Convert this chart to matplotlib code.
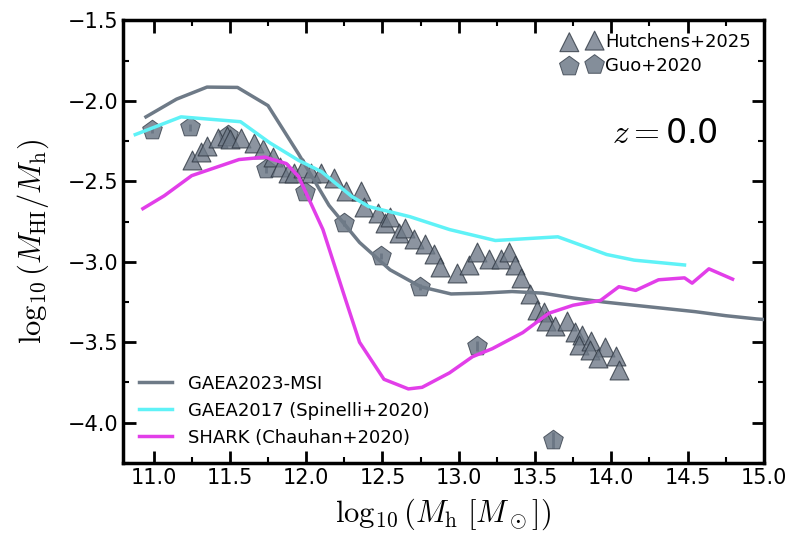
import numpy as np
import matplotlib
matplotlib.use("Agg")
import matplotlib.pyplot as plt

plt.rcParams['mathtext.fontset'] = 'cm'
plt.rcParams['font.family'] = ['DejaVu Sans']

# GAEA2023-MSI
gaea23_x = [10.95, 11.15, 11.35, 11.55, 11.75, 11.95, 12.15, 12.35, 12.55, 12.75, 12.95,
            13.15, 13.35, 13.55, 13.75, 13.95, 14.15, 14.35, 14.55, 14.75, 14.95, 15.15]
gaea23_y = [-2.10, -1.99, -1.915, -1.917, -2.03, -2.33, -2.65, -2.88, -3.05, -3.155, -3.20,
            -3.195, -3.185, -3.195, -3.225, -3.25, -3.27, -3.29, -3.31, -3.335, -3.355, -3.37]

# GAEA2017 (Spinelli+2020)
gaea17_x = [10.88, 11.18, 11.57, 11.76, 11.95, 12.10, 12.30, 12.41, 12.68, 12.94, 13.24,
            13.65, 13.97, 14.15, 14.48]
gaea17_y = [-2.21, -2.10, -2.13, -2.26, -2.37, -2.44, -2.595, -2.657, -2.72, -2.80, -2.868,
            -2.845, -2.955, -2.99, -3.02]

# SHARK (Chauhan+2020)
shark_x = [10.93, 11.07, 11.25, 11.56, 11.73, 11.87, 11.95, 12.11, 12.26, 12.35, 12.51,
           12.67, 12.76, 12.94, 13.09, 13.22, 13.42, 13.59, 13.75, 13.93, 14.05, 14.16,
           14.31, 14.48, 14.53, 14.64, 14.795]
shark_y = [-2.67, -2.59, -2.465, -2.365, -2.35, -2.39, -2.47, -2.80, -3.24, -3.50, -3.73,
           -3.79, -3.78, -3.69, -3.59, -3.54, -3.44, -3.32, -3.27, -3.24, -3.155, -3.178,
           -3.112, -3.10, -3.133, -3.044, -3.108]

# Hutchens+2025
hut_x = [11.25, 11.31, 11.35, 11.42, 11.48, 11.50, 11.57, 11.66, 11.72, 11.78, 11.83, 11.88,
         11.92, 11.98, 12.03, 12.10, 12.18, 12.26, 12.36, 12.38, 12.47, 12.52, 12.55, 12.61,
         12.65, 12.71, 12.78, 12.84, 12.88, 12.99, 13.07, 13.12, 13.20, 13.28, 13.33, 13.37,
         13.41, 13.47, 13.51, 13.56, 13.57, 13.63, 13.71, 13.76, 13.81, 13.79, 13.87, 13.86,
         13.96, 13.91, 14.03, 14.05]
hut_y = [-2.37, -2.32, -2.28, -2.23, -2.22, -2.24, -2.23, -2.26, -2.30, -2.35, -2.41, -2.45,
         -2.45, -2.42, -2.45, -2.45, -2.48, -2.56, -2.56, -2.66, -2.70, -2.76, -2.72, -2.82,
         -2.79, -2.86, -2.89, -2.95, -3.03, -3.07, -3.02, -2.94, -2.98, -2.98, -2.94, -3.02,
         -3.10, -3.20, -3.30, -3.31, -3.37, -3.40, -3.37, -3.435, -3.455, -3.52, -3.49, -3.55,
         -3.53, -3.60, -3.585, -3.67]

# Guo+2020
guo_x = [10.99, 11.24, 11.49, 11.74, 11.99, 12.245, 12.49, 12.745, 13.12, 13.62]
guo_y = [-2.18, -2.165, -2.21, -2.426, -2.568, -2.76, -2.965, -3.157, -3.525, -4.11]
guo_err = [0.02, 0.02, 0.02, 0.02, 0.02, 0.02, 0.02, 0.02, 0.03, 0.05]

fig, ax = plt.subplots(figsize=(7.94, 5.34), dpi=100)
fig.subplots_adjust(left=0.155, right=0.962, top=0.962, bottom=0.133)

l1, = ax.plot(gaea23_x, gaea23_y, color='#6e7a87', lw=2.5, zorder=6, label='GAEA2023-MSI')
l2, = ax.plot(gaea17_x, gaea17_y, color='#5ff2f7', lw=2.5, zorder=6,
              label='GAEA2017 (Spinelli+2020)')
l3, = ax.plot(shark_x, shark_y, color='#e23ee9', lw=2.5, zorder=6,
              label='SHARK (Chauhan+2020)')

ax.errorbar(guo_x, guo_y, yerr=guo_err, fmt='none', ecolor='#566170', elinewidth=2, zorder=3)
p2 = ax.scatter(guo_x, guo_y, marker='p', s=220, facecolor='#6f7a88', edgecolor='#3b4450',
                linewidth=0.7, alpha=0.85, zorder=4, label='Guo+2020')
p1 = ax.scatter(hut_x, hut_y, marker='^', s=185, facecolor='#6f7a88', edgecolor='#2f3742',
                linewidth=0.8, alpha=0.8, zorder=5, label='Hutchens+2025')

leg1 = ax.legend(handles=[p1, p2], loc='upper right', frameon=False, fontsize=13,
                 scatterpoints=2, handletextpad=0.3, borderaxespad=0.3, labelspacing=0.35,
                 handlelength=2.0)
ax.add_artist(leg1)
ax.legend(handles=[l1, l2, l3], loc='lower left', frameon=False, fontsize=13,
          handlelength=1.8, handletextpad=0.9, borderaxespad=0.5, labelspacing=0.5)

ax.text(0.928, 0.745, r'$z=$0.0', transform=ax.transAxes, ha='right', va='center', fontsize=24)

ax.set_xlim(10.8, 15.0)
ax.set_ylim(-4.25, -1.5)
ax.set_xticks(np.arange(11.0, 15.01, 0.5))
ax.set_yticks(np.arange(-4.0, -1.49, 0.5))
ax.set_xticks(np.arange(11.25, 15.0, 0.5), minor=True)
ax.set_yticks(np.arange(-4.25, -1.5, 0.5), minor=True)
ax.tick_params(which='both', direction='in', top=True, right=True, labelsize=15)
ax.tick_params(which='major', length=9, width=2)
ax.tick_params(which='minor', length=4.5, width=1.5)
for sp in ax.spines.values():
    sp.set_linewidth(2.5)

ax.set_xlabel(r'$\log_{10}(M_{\rm h}\ [M_\odot])$', fontsize=22, labelpad=6)
ax.set_ylabel(r'$\log_{10}(M_{\rm HI}/M_{\rm h})$', fontsize=22, labelpad=12)

fig.savefig('out.png', dpi=100)
